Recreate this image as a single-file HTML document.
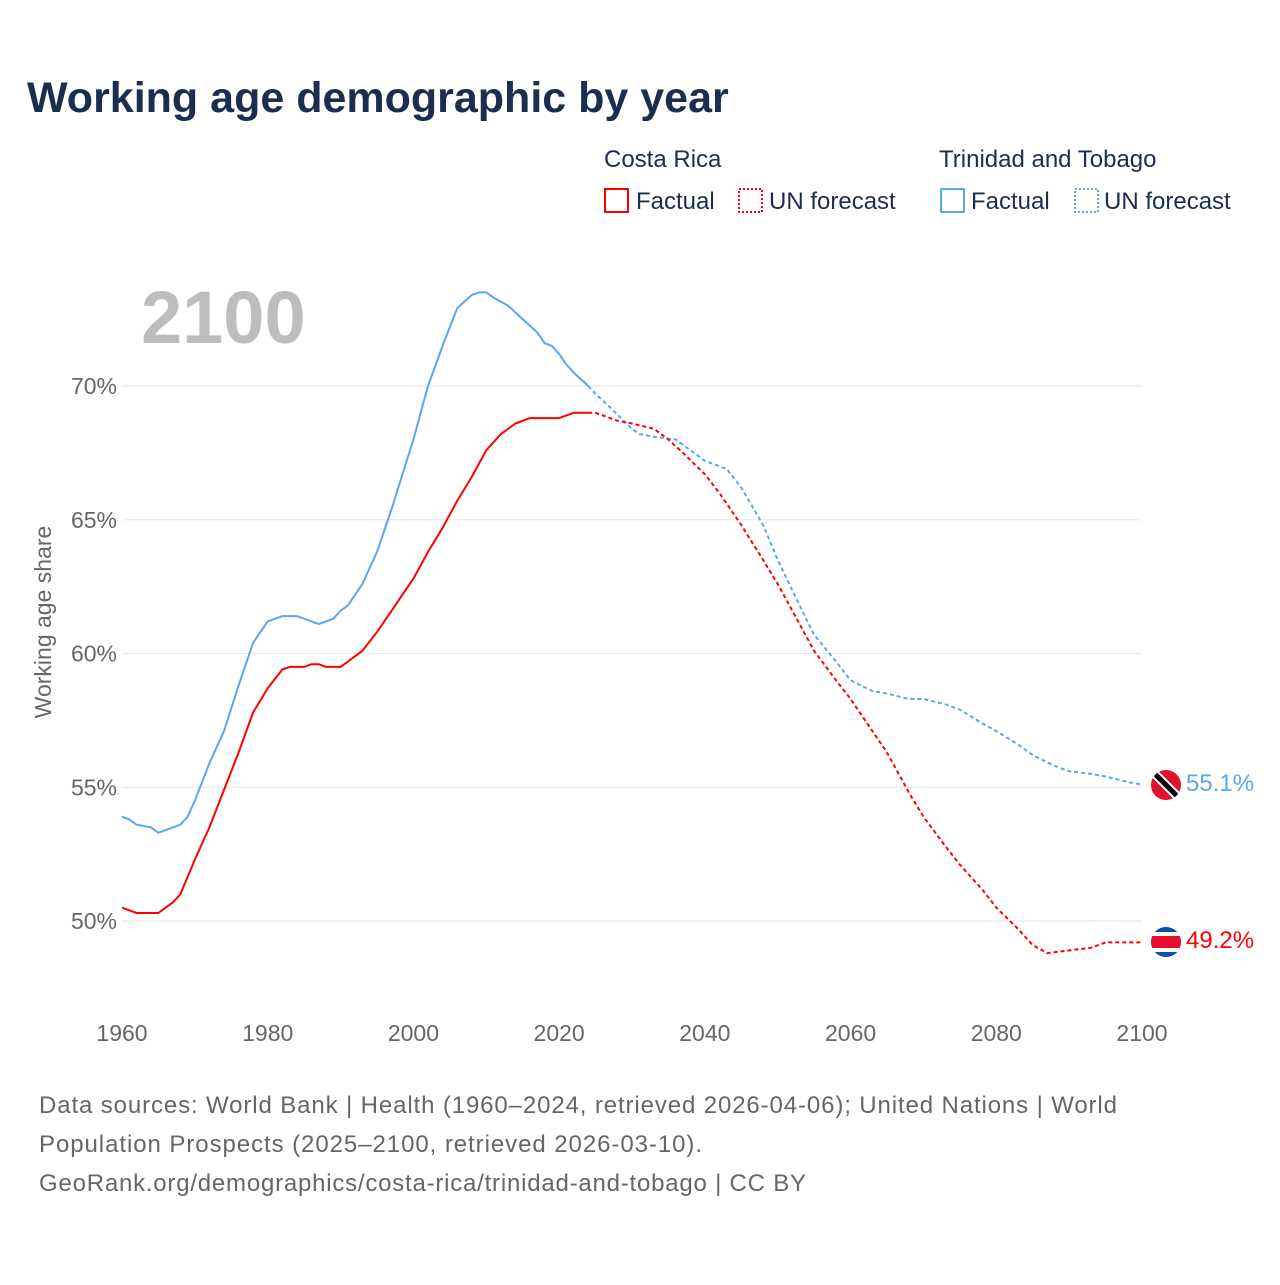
<!DOCTYPE html>
<html><head><meta charset="utf-8">
<style>
body{margin:0;background:#fff;width:1280px;height:1280px;overflow:hidden;font-family:"Liberation Sans",sans-serif}
svg text{font-family:"Liberation Sans",sans-serif}
</style></head>
<body>
<svg id="chart" width="1280" height="1280" xmlns="http://www.w3.org/2000/svg">
<text x="27" y="112" font-size="43" font-weight="bold" fill="#1a2e4f">Working age demographic by year</text>
<g font-size="24" fill="#1a2e4f">
<text x="604" y="167">Costa Rica</text>
<text x="939" y="167">Trinidad and Tobago</text>
<g><rect x="605" y="189" width="23" height="23" fill="none" stroke="#f00" stroke-width="2"/><text x="636" y="209">Factual</text></g>
<g><rect x="739" y="189" width="23" height="23" fill="none" stroke="#f00" stroke-width="2" stroke-dasharray="2,2"/><text x="769" y="209">UN forecast</text></g>
<g><rect x="941" y="189" width="23" height="23" fill="none" stroke="#5ba6ee" stroke-width="2"/><text x="971" y="209">Factual</text></g>
<g><rect x="1075" y="189" width="23" height="23" fill="none" stroke="#5ba6ee" stroke-width="2" stroke-dasharray="2,2"/><text x="1104" y="209">UN forecast</text></g>
</g>
<text x="141" y="343" font-size="74" font-weight="bold" fill="#bdbdbd">2100</text>
<text transform="translate(51,622) rotate(-90)" text-anchor="middle" font-size="23" fill="#666">Working age share</text>
<g id="grid"></g><g id="lines"></g>
<g>
<clipPath id="c1"><circle cx="1166" cy="785" r="15"/></clipPath>
<g clip-path="url(#c1)"><rect x="1150" y="769" width="32" height="32" fill="#e0102e"/><line x1="1152" y1="771" x2="1180" y2="799" stroke="#fff" stroke-width="9"/><line x1="1152" y1="771" x2="1180" y2="799" stroke="#000" stroke-width="5"/></g></g>
<g>
<clipPath id="c2"><circle cx="1166" cy="942" r="15"/></clipPath>
<g clip-path="url(#c2)"><rect x="1150" y="926" width="32" height="32" fill="#0a4fa8"/><rect x="1150" y="932" width="32" height="20" fill="#fff"/><rect x="1150" y="936" width="32" height="12" fill="#e0102e"/></g></g>
<text x="1186" y="791" font-size="24" fill="#5ba6ee">55.1%</text>
<text x="1186" y="948" font-size="24" fill="#f00">49.2%</text>
<g font-size="24" fill="#666">
<text x="39" y="1113" textLength="1078" lengthAdjust="spacing">Data sources: World Bank | Health (1960–2024, retrieved 2026-04-06); United Nations | World</text>
<text x="39" y="1152" textLength="663" lengthAdjust="spacing">Population Prospects (2025–2100, retrieved 2026-03-10).</text>
<text x="39" y="1191" textLength="767" lengthAdjust="spacing">GeoRank.org/demographics/costa-rica/trinidad-and-tobago | CC BY</text>
</g>
</svg>
<script>
const yTicks=[50,55,60,65,70];
const xTicks=[1960,1980,2000,2020,2040,2060,2080,2100];
const crYears=[1960,1962,1965,1966,1967,1968,1970,1972,1974,1976,1978,1980,1982,1983,1985,1986,1987,1988,1990,1992,1993,1995,1997,2000,2002,2004,2006,2008,2010,2012,2014,2016,2018,2020,2022,2024,2025,2028,2030,2033,2035,2037,2040,2042,2045,2048,2050,2053,2055,2058,2060,2063,2065,2068,2070,2073,2075,2078,2080,2083,2085,2087,2090,2093,2095,2097,2100];
const crValues=[50.5,50.3,50.3,50.5,50.7,51.0,52.3,53.5,54.9,56.3,57.8,58.7,59.4,59.5,59.5,59.6,59.6,59.5,59.5,59.9,60.1,60.8,61.6,62.8,63.8,64.7,65.7,66.6,67.6,68.2,68.6,68.8,68.8,68.8,69.0,69.0,69.0,68.7,68.6,68.4,68.0,67.5,66.7,66.0,64.8,63.5,62.6,61.1,60.1,59.0,58.3,57.1,56.3,54.8,53.9,52.8,52.1,51.2,50.5,49.7,49.1,48.8,48.9,49.0,49.2,49.2,49.2];
const ttYears=[1960,1961,1962,1964,1965,1967,1968,1969,1970,1972,1974,1976,1978,1980,1982,1984,1986,1987,1989,1990,1991,1993,1995,1997,2000,2002,2004,2006,2008,2009,2010,2011,2013,2015,2017,2018,2019,2020,2021,2022,2024,2025,2027,2030,2031,2033,2036,2038,2040,2043,2045,2048,2050,2053,2055,2058,2060,2063,2065,2068,2070,2073,2075,2078,2080,2083,2085,2088,2090,2093,2095,2098,2100];
const ttValues=[53.9,53.8,53.6,53.5,53.3,53.5,53.6,53.9,54.5,55.9,57.1,58.8,60.4,61.2,61.4,61.4,61.2,61.1,61.3,61.6,61.8,62.6,63.8,65.4,68.0,70.0,71.5,72.9,73.4,73.5,73.5,73.3,73.0,72.5,72.0,71.6,71.5,71.2,70.8,70.5,70.0,69.7,69.2,68.4,68.2,68.1,68.0,67.6,67.2,66.9,66.2,64.8,63.5,61.8,60.7,59.7,59.0,58.6,58.5,58.3,58.3,58.1,57.9,57.4,57.1,56.6,56.2,55.8,55.6,55.5,55.4,55.2,55.1];
const lastFactual=2024;
const NS='http://www.w3.org/2000/svg';
const xs=y=>122+(y-1960)*(1020/140);
const ys=v=>386+(70-v)*26.75;
const grid=document.getElementById('grid'),lines=document.getElementById('lines');
yTicks.forEach(t=>{
 const l=document.createElementNS(NS,'line');
 
 
 l.setAttribute('x1',122);l.setAttribute('x2',1142);l.setAttribute('y1',ys(t));l.setAttribute('y2',ys(t));
 l.setAttribute('stroke','#e6e6e6');l.setAttribute('stroke-width',1);grid.appendChild(l);
 const tx=document.createElementNS(NS,'text');
 
 
 tx.setAttribute('x',117);tx.setAttribute('y',ys(t)+8);tx.setAttribute('text-anchor','end');
 tx.setAttribute('font-size',23);tx.setAttribute('fill','#666');tx.textContent=t+'%';grid.appendChild(tx);
});
xTicks.forEach(t=>{
 const tx=document.createElementNS(NS,'text');
 
 
 tx.setAttribute('x',xs(t));tx.setAttribute('y',1041);tx.setAttribute('text-anchor','middle');
 tx.setAttribute('font-size',23);tx.setAttribute('fill','#666');tx.textContent=t;grid.appendChild(tx);
});
function draw(years,vals,color,name){
 const a=[],b=[];
 years.forEach((y,i)=>{const p=xs(y).toFixed(1)+','+ys(vals[i]).toFixed(1);if(y<=lastFactual)a.push(p);if(y>=lastFactual)b.push(p);});
 const p1=document.createElementNS(NS,'polyline');
 
 
 p1.setAttribute('points',a.join(' '));p1.setAttribute('fill','none');p1.setAttribute('stroke',color);p1.setAttribute('stroke-width',2);p1.setAttribute('stroke-linejoin','round');
 lines.appendChild(p1);
 const p2=document.createElementNS(NS,'polyline');
 
 
 p2.setAttribute('points',b.join(' '));p2.setAttribute('fill','none');p2.setAttribute('stroke',color);p2.setAttribute('stroke-width',2);p2.setAttribute('stroke-dasharray','4,3');
 lines.appendChild(p2);
}
draw(ttYears,ttValues,'#5ba6ee','trinidad');
draw(crYears,crValues,'#f00','costa-rica');
</script>
</body></html>
